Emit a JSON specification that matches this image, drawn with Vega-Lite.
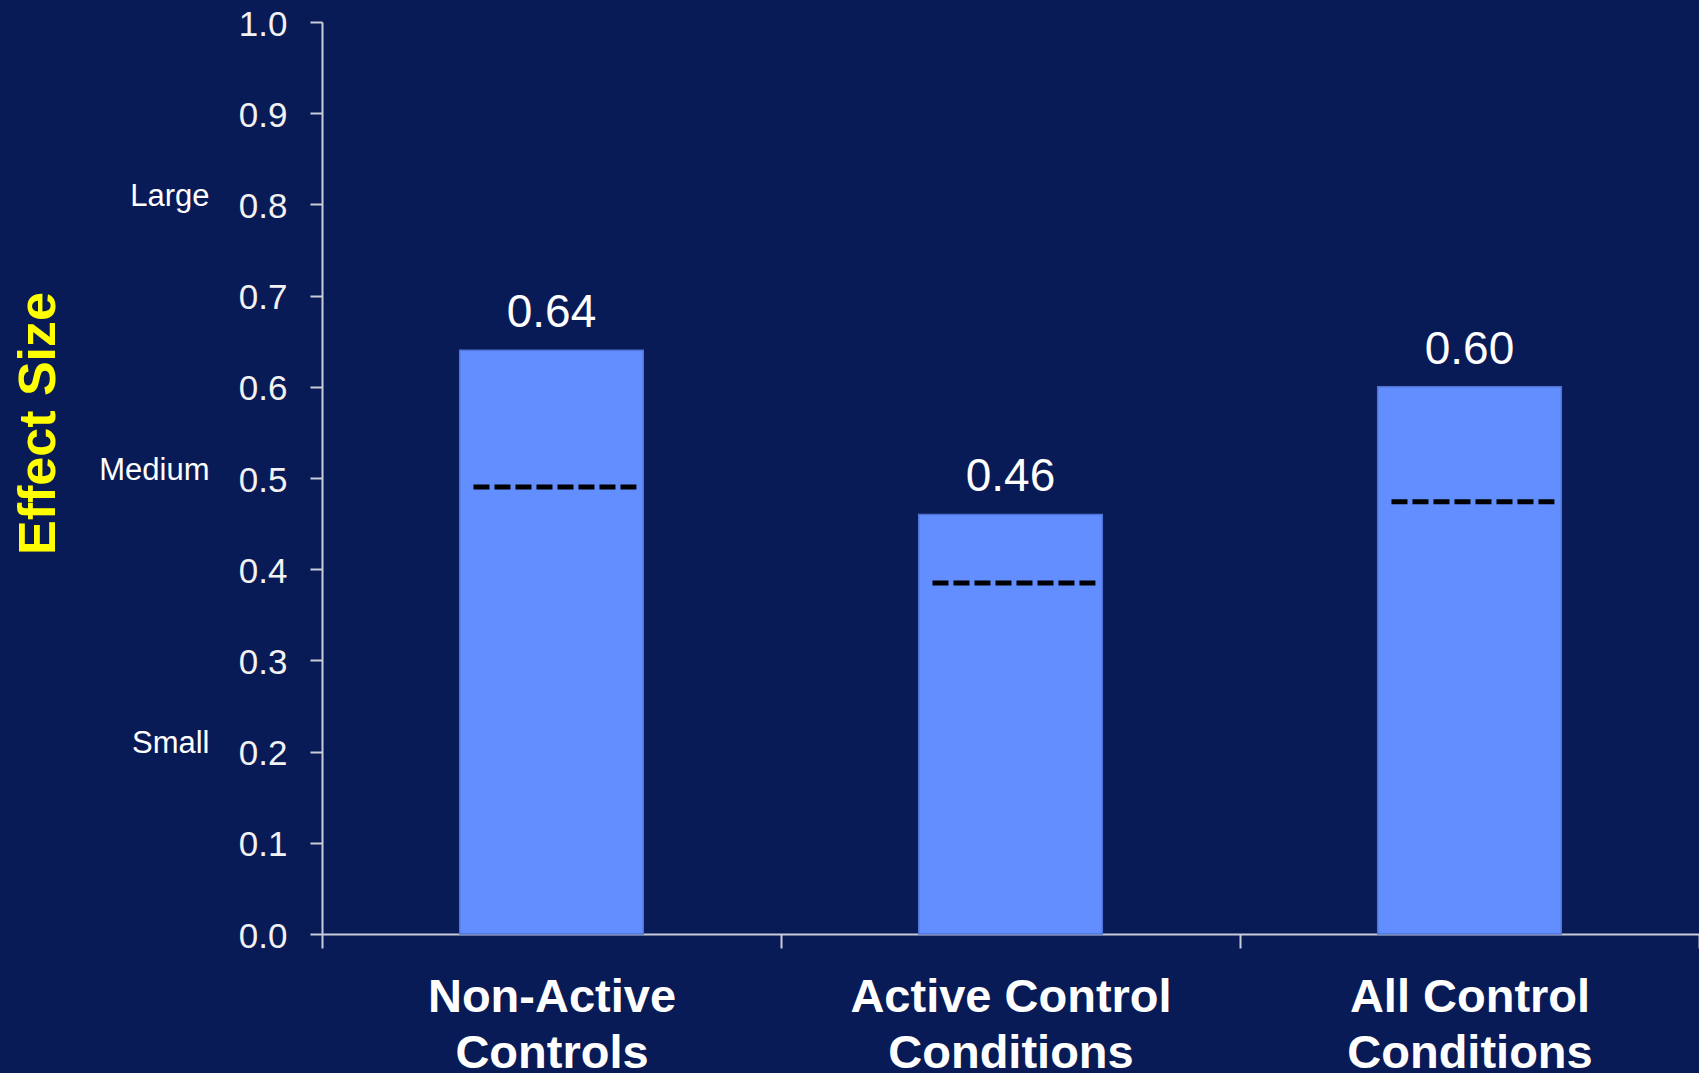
{
  "$schema": "https://vega.github.io/schema/vega-lite/v6.json",
  "width": 1377,
  "height": 912,
  "autosize": {"type": "none"},
  "padding": {"left": 322, "top": 22, "right": 0, "bottom": 139},
  "background": "#091B56",
  "config": {
    "font": "Liberation Sans",
    "view": {"stroke": null},
    "axis": {"grid": false},
    "axisX": {
      "title": null,
      "tickBand": "extent",
      "labelAngle": 0,
      "labelFont": "Liberation Sans",
      "labelFontWeight": "bold",
      "labelFontSize": 47,
      "labelLineHeight": 56,
      "labelColor": "#FFFFFF",
      "labelPadding": 26,
      "labelLimit": 600,
      "domainColor": "#C9CDD9",
      "domainWidth": 2,
      "tickColor": "#C9CDD9",
      "tickWidth": 2,
      "tickSize": 14,
      "zindex": 1
    }
  },
  "datasets": {
    "bars": [
      {"group": "Non-Active Controls", "es": 0.64, "ref": 0.49},
      {"group": "Active Control Conditions", "es": 0.46, "ref": 0.385},
      {"group": "All Control Conditions", "es": 0.60, "ref": 0.474}
    ],
    "bench": [
      {"size": "Small", "d": 0.2},
      {"size": "Medium", "d": 0.5},
      {"size": "Large", "d": 0.8}
    ]
  },
  "resolve": {"axis": {"y": "independent"}},
  "layer": [
    {
      "data": {"name": "bars"},
      "mark": {"type": "bar", "width": {"band": 0.4}, "color": "#628EFF", "stroke": "#4F74D6", "strokeWidth": 1.5},
      "encoding": {
        "x": {
          "field": "group", "type": "nominal", "sort": null, "title": null,
          "scale": {"paddingInner": 0, "paddingOuter": 0},
          "axis": {
            "labelExpr": "[slice(datum.label, 0, lastindexof(datum.label, ' ')), slice(datum.label, lastindexof(datum.label, ' ') + 1)]"
          }
        },
        "y": {
          "field": "es", "type": "quantitative",
          "scale": {"domain": [0, 1]},
          "axis": {
            "orient": "left",
            "values": [0, 0.1, 0.2, 0.3, 0.4, 0.5, 0.6, 0.7, 0.8, 0.9, 1.0],
            "format": ".1f",
            "labelFontSize": 35,
            "labelColor": "#F2F2F2",
            "labelPadding": 23,
            "labelBaseline": "alphabetic",
            "labelOffset": 13,
            "tickSize": 12,
            "tickColor": "#C9CDD9",
            "tickWidth": 2,
            "domainColor": "#C9CDD9",
            "domainWidth": 2,
            "zindex": 1,
            "title": "Effect Size",
            "titleColor": "#FFFF00",
            "titleFontSize": 52,
            "titleFontWeight": "bold",
            "titleAngle": -90,
            "titleX": -268,
            "titleY": 401,
            "titleAlign": "center",
            "titleBaseline": "alphabetic"
          }
        }
      }
    },
    {
      "data": {"name": "bars"},
      "mark": {"type": "rule", "color": "#000000", "strokeWidth": 5, "strokeDash": [16, 5]},
      "encoding": {
        "x": {"field": "group", "type": "nominal", "sort": null, "title": null, "bandPosition": 0.33},
        "x2": {"field": "group", "bandPosition": 0.685},
        "y": {"field": "ref", "type": "quantitative", "axis": null}
      }
    },
    {
      "data": {"name": "bars"},
      "mark": {"type": "text", "fontSize": 46, "color": "#FFFFFF", "baseline": "alphabetic", "dy": -23},
      "encoding": {
        "x": {"field": "group", "type": "nominal", "sort": null, "title": null},
        "y": {"field": "es", "type": "quantitative", "axis": null},
        "text": {"field": "es", "type": "quantitative", "format": ".2f"}
      }
    },
    {
      "data": {"name": "bench"},
      "mark": {"type": "point", "opacity": 0},
      "encoding": {
        "y": {
          "field": "d", "type": "quantitative",
          "axis": {
            "orient": "left",
            "offset": 100,
            "values": [0.2, 0.5, 0.8],
            "labelExpr": "datum.value == 0.8 ? 'Large' : datum.value == 0.5 ? 'Medium' : 'Small'",
            "domain": false,
            "ticks": false,
            "tickSize": 0,
            "labelFontSize": 31,
            "labelColor": "#FFFFFF",
            "labelPadding": 13,
            "labelBaseline": "alphabetic",
            "labelOffset": 1,
            "title": null
          }
        }
      }
    }
  ]
}
